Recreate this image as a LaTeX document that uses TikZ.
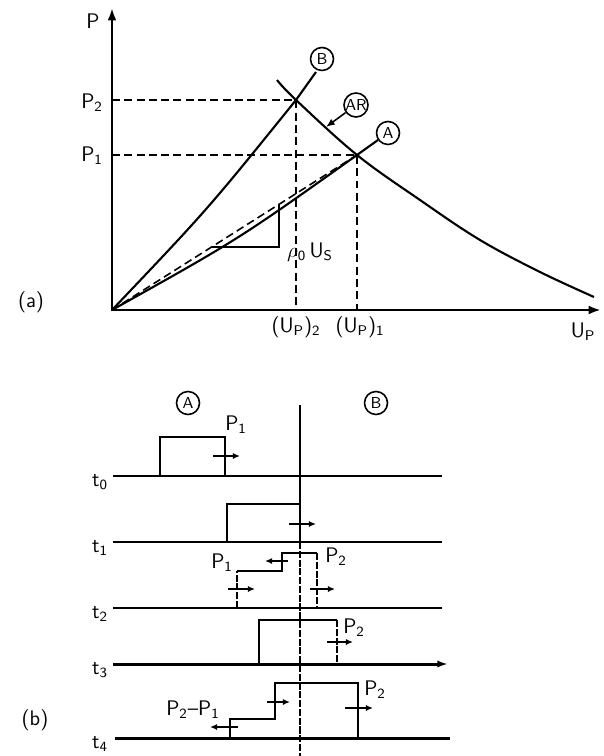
\documentclass[tikz,border=0pt]{standalone}
\usepackage{amsmath}
\usetikzlibrary{arrows.meta, positioning}

\begin{document}
\begin{tikzpicture}[
  x=0.02cm, y=-0.02cm,
  lbl/.style={font=\sffamily\fontsize{12}{14}\selectfont, inner sep=1pt},
  tag/.style={circle, draw, line width=0.9pt, minimum size=0.46cm,
    inner sep=0pt, font=\sffamily\fontsize{9}{10}\selectfont},
  curve/.style={line width=1.2pt},
  guide/.style={line width=0.9pt, dash pattern=on 4.5pt off 2.5pt},
  axis/.style={line width=1.4pt,
    {Latex[length=7pt,width=5pt]}-{Latex[length=7pt,width=5pt]}},
  base/.style={line width=1.7pt},
  pulse/.style={line width=1.2pt},
  front/.style={line width=1.1pt, dash pattern=on 4pt off 1pt},
  move/.style={line width=0.9pt, -{Latex[length=4pt,width=3.5pt]}}
]
\useasboundingbox (0,0) rectangle (603,756);

%% (a) pressure - particle velocity plane
\coordinate (O)    at (112,310);
\coordinate (Ptop) at (112,8);
\coordinate (Uend) at (601,310);
\coordinate (Bx)   at (296,100);
\coordinate (Ax)   at (357,155);

\draw[axis] (Ptop) -- (O) -- (Uend);

%% Hugoniot curves of B and A
\draw[curve] (O) .. controls (208,209) .. (Bx) -- (316,72);
\draw[curve] (O) .. controls (239,239) .. (Ax) -- (378,140);
\draw[guide] (O) -- (Ax);

%% release curve
\draw[curve] plot[smooth, tension=0.6] coordinates
  {(277,80) (296,100) (357,155) (420,200) (480,240) (540,272) (594,297)};

%% dashed guides
\draw[guide] (O |- Bx) -- (Bx) -- (Bx |- O);
\draw[guide] (O |- Ax) -- (Ax) -- (Ax |- O);

%% slope triangle
\draw[line width=1pt] (212,247) -- (279,247) -- (279,204);
\node[lbl] (rho) at (310,252) {$\rho_{\textsf{0}}$\,U\textsubscript{S}};

%% labels
\node[lbl] (lp)  at (93,21)  {P};
\node[lbl] (lp2) at (92,103) {P\textsubscript{2}};
\node[lbl] (lp1) at (92,156) {P\textsubscript{1}};
\node[lbl] (lu2) at (296,327) {(U\textsubscript{P})\textsubscript{2}};
\node[lbl] (lu1) at (360,327) {(U\textsubscript{P})\textsubscript{1}};
\node[lbl] (lu)  at (583,332) {U\textsubscript{P}};
\node[lbl] (la)  at (31,302)  {(a)};

\node[tag] (tB)  at (322,59)  {B};
\node[tag] (tAR) at (356,105) {AR};
\node[tag] (tA)  at (388,133) {A};
\coordinate (ARtip) at (326,127);
\draw[line width=0.9pt, -{Latex[length=5pt,width=4pt]}] (tAR) -- (ARtip);

%% (b) pulse positions in time
\node[tag] (pA) at (188,403) {A};
\node[tag] (pB) at (376,403) {B};
\draw[base, line width=1.2pt] (300,405) -- (300,542);
\draw[front] (300,542) -- (300,756);

\foreach \t/\y in {0/476, 1/542, 2/608} {
  \draw[base] (113,\y) -- (442,\y);
  \node[lbl, anchor=east] (lt\t) at (110,\y+6) {t\textsubscript{\t}};
}
\draw[base, -{Latex[length=6pt,width=4pt]}] (113,664) -- (448,664);
\node[lbl, anchor=east] (lt3) at (110,670) {t\textsubscript{3}};
\draw[base] (115,738) -- (450,738);
\node[lbl, anchor=east] (lt4) at (110,744) {t\textsubscript{4}};

%% t0
\draw[pulse] (160,476) |- (225,437) -- (225,476);
\draw[move] (213,456) -- (240,456);
\node[lbl] (q01) at (236,425) {P\textsubscript{1}};

%% t1
\draw[pulse] (227,542) |- (300,504);
\draw[move] (289,524) -- (316,524);

%% t2
\draw[front] (237,608) -- (237,571);
\draw[pulse] (237,571) -- (282,571) -- (282,553) -- (317,553);
\draw[front] (317,553) -- (317,608);
\draw[move] (228,589) -- (255,589);
\draw[move] (288,561) -- (265,561);
\draw[move] (310,589) -- (335,589);
\node[lbl] (q21) at (222,563) {P\textsubscript{1}};
\node[lbl] (q22) at (336,557) {P\textsubscript{2}};

%% t3
\draw[pulse] (259,664) |- (337,620);
\draw[front] (337,620) -- (337,664);
\draw[move] (327,642) -- (353,642);
\node[lbl] (q32) at (354,628) {P\textsubscript{2}};

%% t4
\draw[pulse] (230,738) |- (275,719) |- (358,683) -- (358,738);
\draw[move] (238,727) -- (210,727);
\draw[move] (267,702) -- (290,702);
\draw[move] (345,708) -- (373,708);
\node[lbl] (q41) at (193,710) {P\textsubscript{2}--P\textsubscript{1}};
\node[lbl] (q42) at (375,690) {P\textsubscript{2}};
\node[lbl] (lb)  at (35,720)  {(b)};

\end{tikzpicture}
\end{document}
